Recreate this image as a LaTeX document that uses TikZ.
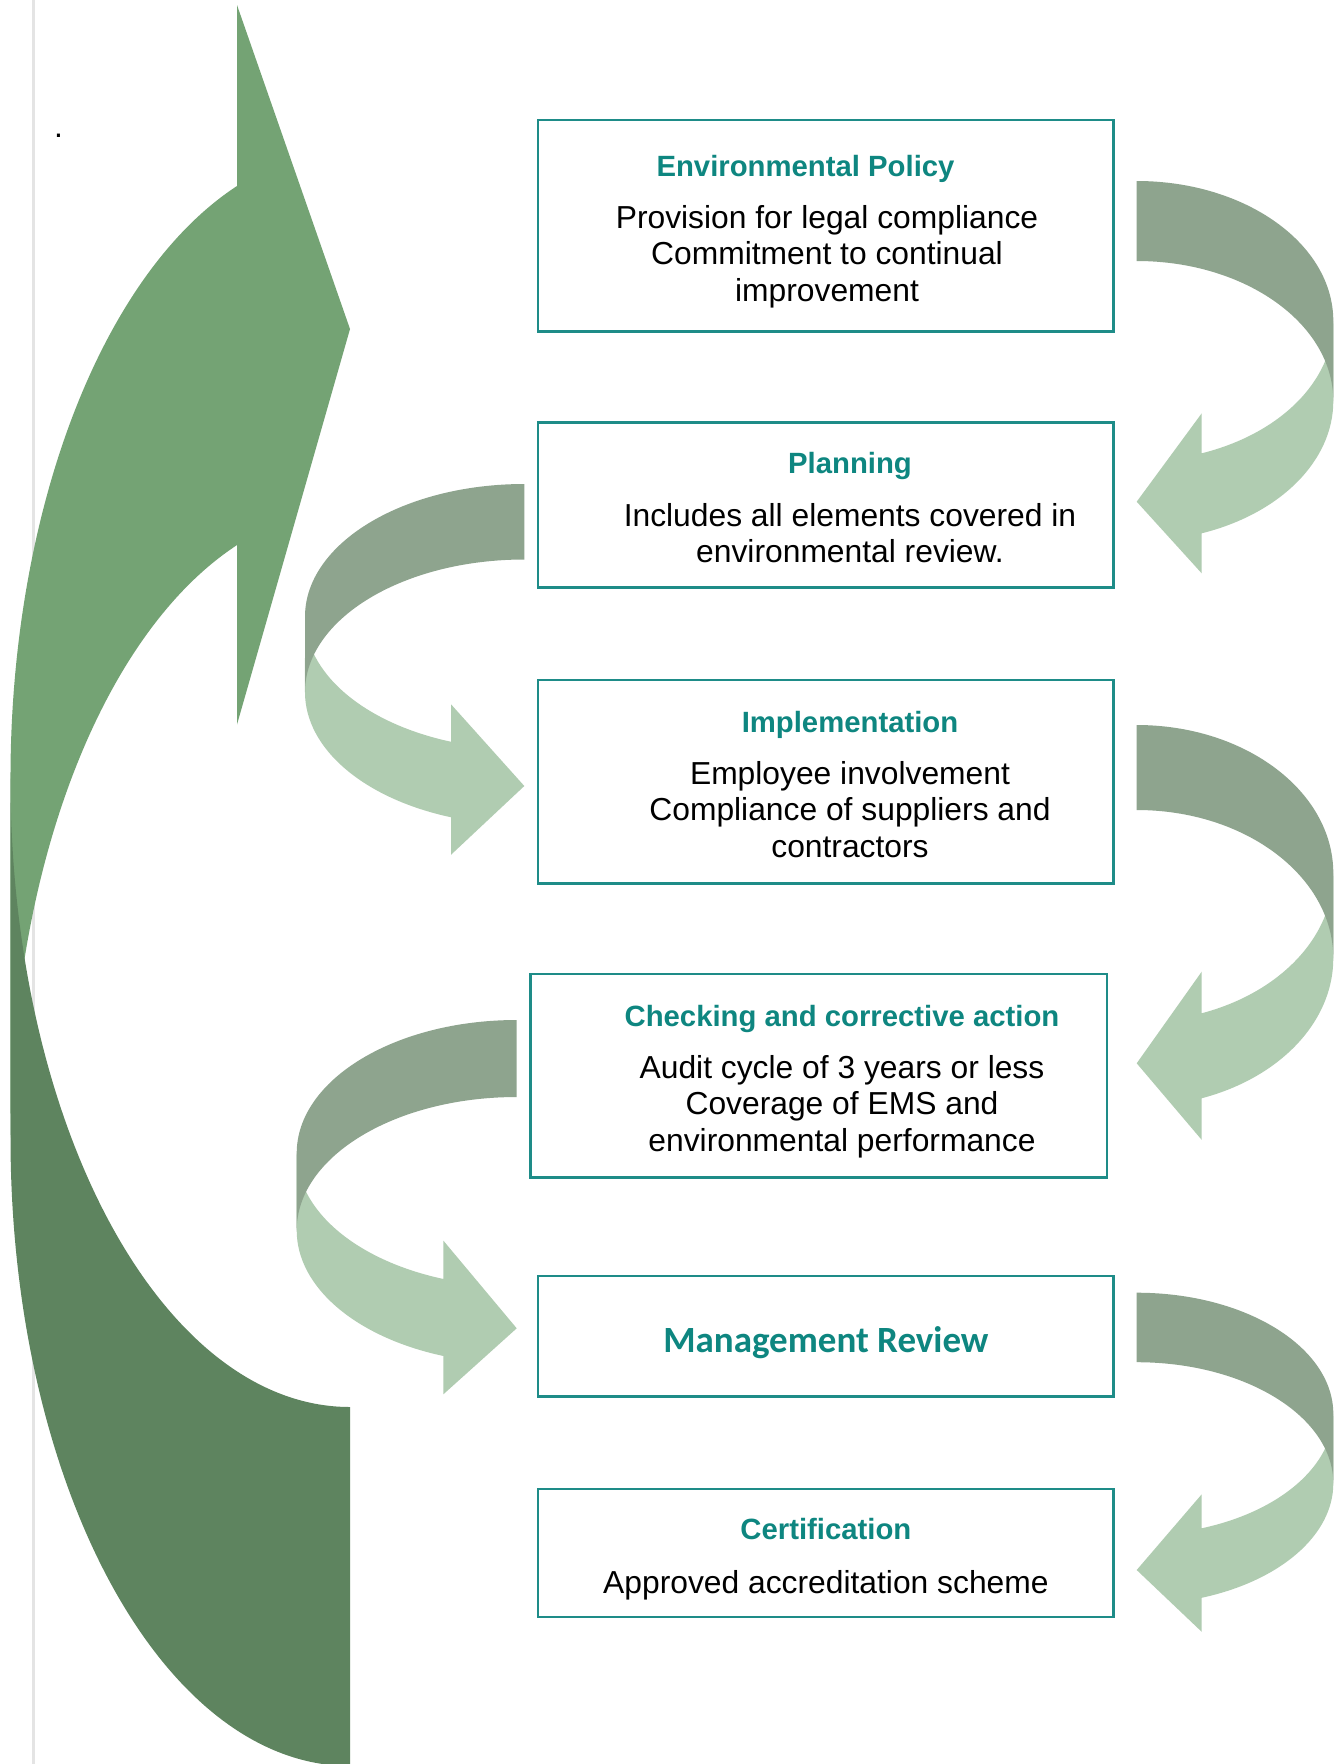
\documentclass[tikz,border=0pt]{standalone}
\usepackage{fontspec}
\setmainfont{Liberation Sans}
\newfontfamily\carlito{Carlito}
\usetikzlibrary{calc}
\definecolor{biglight}{RGB}{116,163,116}
\definecolor{bigdark}{RGB}{94,132,95}
\definecolor{curllight}{RGB}{176,204,177}
\definecolor{curldark}{RGB}{142,164,142}
\definecolor{tealline}{RGB}{30,140,136}
\definecolor{tealtext}{RGB}{14,134,128}
\definecolor{rulegray}{RGB}{228,228,228}

% curl bending on the right: x0, cA, rx, ry, th, xb, e, tipy
\newcommand{\curlR}[8]{%
  \pgfmathsetmacro\tb{acos((#6-#1)/#3)}%
  \pgfmathsetmacro\ya{#2+#4*sin(\tb)}%
  \fill[curllight] ({#1+#3},#2) arc[start angle=0,end angle=\tb,x radius=#3,y radius=#4]
    -- (#6,{\ya-#7}) -- (#1,#8) -- (#6,{\ya+#5+#7}) -- (#6,{\ya+#5})
    arc[start angle=\tb,end angle=0,x radius=#3,y radius=#4] -- cycle;
  \fill[curldark] (#1,{#2-#4}) arc[start angle=-90,end angle=0,x radius=#3,y radius=#4]
    -- ++(0,#5) arc[start angle=0,end angle=-90,x radius=#3,y radius=#4] -- cycle;
}
% curl bending on the left
\newcommand{\curlL}[8]{%
  \pgfmathsetmacro\tb{acos((#6-#1)/#3)}%
  \pgfmathsetmacro\ya{#2+#4*sin(\tb)}%
  \fill[curllight] ({#1-#3},#2) arc[start angle=180,end angle=\tb,x radius=#3,y radius=#4]
    -- (#6,{\ya-#7}) -- (#1,#8) -- (#6,{\ya+#5+#7}) -- (#6,{\ya+#5})
    arc[start angle=\tb,end angle=180,x radius=#3,y radius=#4] -- cycle;
  \fill[curldark] (#1,{#2-#4}) arc[start angle=-90,end angle=-180,x radius=#3,y radius=#4]
    -- ++(0,#5) arc[start angle=180,end angle=270,x radius=#3,y radius=#4] -- cycle;
}

\begin{document}
\begin{tikzpicture}[x=1pt,y=-1pt,
  boxst/.style={draw=tealline, line width=2.3pt, inner sep=0pt, minimum width=575.4pt},
  titlest/.style={anchor=base, inner sep=0pt, text=tealtext, font=\fontsize{29.3}{35}\selectfont\bfseries},
  bodyst/.style={anchor=base, inner sep=0pt, text=black, font=\fontsize{31.8}{36.3}\selectfont},
  mrst/.style={anchor=base, inner sep=0pt, text=tealtext, font=\carlito\fontsize{37}{44}\selectfont\bfseries}]
\useasboundingbox (0,0) rectangle (1337,1764);
\fill[white] (0,0) rectangle (1337,1764);

% thin page rule
\draw[rulegray, line width=2.5pt] (33.5,0) -- (33.5,1764);

% big curved arrow
\fill[biglight] (10.5,1137.6) arc[start angle=180,end angle=250.56,x radius=339.5,y radius=628.4]
  -- (237,724.5) -- (350,329) -- (237,5) -- (237,186)
  arc[start angle=250.56,end angle=180,x radius=339.5,y radius=628.4] -- cycle;
\fill[bigdark] (350,1407) arc[start angle=90,end angle=180,x radius=339.5,y radius=628.4]
  -- (10.5,1137.6) arc[start angle=180,end angle=90,x radius=339.5,y radius=628.4] -- cycle;

\node[bodyst] (dot) at (58.5,137) {.};

% small curled arrows
\curlR{1136.7}{321.1}{196.6}{140.1}{80}{1201.7}{40}{501.7}
\curlR{1136.7}{873.3}{196.6}{148.3}{85}{1201.7}{41.6}{1063.3}
\curlR{1136.7}{1413.9}{196.6}{121.2}{69.5}{1201.7}{34}{1570}
\curlL{524.3}{616.7}{219.3}{132.7}{75.5}{451}{37.5}{786}
\curlL{516.7}{1153.3}{220}{133.3}{77}{443.3}{38.4}{1328.3}

% boxes
\node[boxst, minimum height=211.2pt] (b1) at (825.9,225.8) {};
\node[titlest] (b1t) at (805.5,176.8) {Environmental Policy};
\node[bodyst] (b1a) at (827,228.5) {Provision for legal compliance};
\node[bodyst] (b1b) at (827,264.8) {Commitment to continual};
\node[bodyst] (b1c) at (827,301.1) {improvement};

\node[boxst, minimum height=165.2pt] (b2) at (825.9,505) {};
\node[titlest] (b2t) at (850,473.5) {Planning};
\node[bodyst] (b2a) at (850,526.5) {Includes all elements covered in};
\node[bodyst] (b2b) at (850,562.8) {environmental review.};

\node[boxst, minimum height=203.6pt] (b3) at (825.9,781.6) {};
\node[titlest] (b3t) at (850,732) {Implementation};
\node[bodyst] (b3a) at (850,784.6) {Employee involvement};
\node[bodyst] (b3b) at (850,820.9) {Compliance of suppliers and};
\node[bodyst] (b3c) at (850,857.2) {contractors};

\node[boxst, minimum width=576.3pt, minimum height=203.4pt] (b4) at (818.5,1075.7) {};
\node[titlest] (b4t) at (842,1026.3) {Checking and corrective action};
\node[bodyst] (b4a) at (842,1078.4) {Audit cycle of 3 years or less};
\node[bodyst] (b4b) at (842,1114.7) {Coverage of EMS and};
\node[bodyst] (b4c) at (842,1151) {environmental performance};

\node[boxst, minimum height=120.2pt] (b5) at (825.9,1336.4) {};
\node[mrst] (b5t) at (825.9,1352.5) {Management Review};

\node[boxst, minimum height=128pt] (b6) at (825.9,1553) {};
\node[titlest] (b6t) at (825.9,1539) {Certification};
\node[bodyst] (b6a) at (825.9,1593) {Approved accreditation scheme};
\end{tikzpicture}
\end{document}
